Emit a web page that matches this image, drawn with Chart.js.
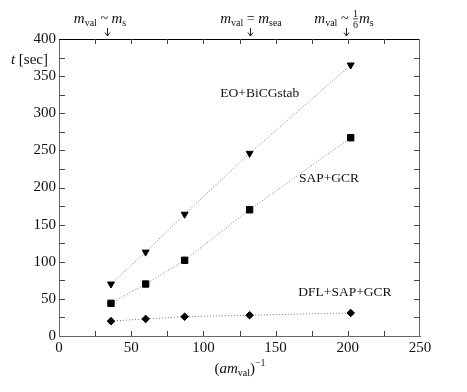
<!DOCTYPE html>
<html>
<head>
<meta charset="utf-8">
<script src="https://cdn.jsdelivr.net/npm/chart.js@4/dist/chart.umd.min.js"></script>
<style>
  html, body { margin: 0; padding: 0; background: #fff; }
  #wrap { width: 467px; height: 392px; }
</style>
</head>
<body>
<div id="wrap"><canvas id="solverChart" width="467" height="392"></canvas></div>
<script>
// (a m_val)^-1 values and timings in seconds
const invMass = [36, 60, 87, 132, 202];
const eoBicgstab = [70, 113, 164, 246, 365];
const sapGcr = [44, 70, 102, 170, 267];
const dflSapGcr = [20, 23, 26, 28, 31];
const xTicks = [0, 50, 100, 150, 200, 250];
const yTicks = [0, 50, 100, 150, 200, 250, 300, 350, 400];
const markerX = [33, 132.5, 198.5];

const SERIF = "'Liberation Serif', 'DejaVu Serif', serif";
const f = (size, italic) => (italic ? 'italic ' : '') + size + 'px ' + SERIF;

Chart.defaults.font.family = SERIF;

function toPoints(ys) {
    return invMass.map((x, i) => ({ x: x, y: ys[i] }));
}

// draw a run of text pieces (for subscripts, italics etc.)
function drawRich(ctx, x, y, parts, align) {
    let total = 0;
    parts.forEach(p => {
        ctx.font = p.font;
        if (p.frac) {
            p.w = Math.max(ctx.measureText(p.frac[0]).width, ctx.measureText(p.frac[1]).width) + 2;
        } else {
            p.w = ctx.measureText(p.t).width;
        }
        total += p.w;
    });
    let cx = align === 'center' ? x - total / 2 : (align === 'right' ? x - total : x);
    ctx.textAlign = 'left';
    ctx.textBaseline = 'alphabetic';
    parts.forEach(p => {
        ctx.font = p.font;
        if (p.frac) {
            ctx.textAlign = 'center';
            ctx.fillText(p.frac[0], cx + p.w / 2, y - 6);
            ctx.fillText(p.frac[1], cx + p.w / 2, y + 5);
            ctx.fillRect(cx + 1, y - 4.5, p.w - 2, 0.8);
            ctx.textAlign = 'left';
        } else {
            ctx.fillText(p.t, cx, y + (p.dy || 0));
        }
        cx += p.w;
    });
}

const framePlugin = {
    id: 'frame',
    afterDraw(chart) {
        const ctx = chart.ctx;
        const xs = chart.scales.x, ys = chart.scales.y;
        const a = chart.chartArea;
        ctx.save();
        // frame
        ctx.lineWidth = 1;
        ctx.strokeStyle = '#000';
        ctx.beginPath();
        ctx.moveTo(a.left, a.top + 0.5);
        ctx.lineTo(a.right, a.top + 0.5);
        ctx.stroke();
        ctx.strokeStyle = '#666';
        ctx.beginPath();
        ctx.moveTo(a.right - 0.5, a.top);
        ctx.lineTo(a.right - 0.5, a.bottom);
        ctx.stroke();

        // inward ticks every 25
        ctx.strokeStyle = '#444';
        ctx.beginPath();
        for (let v = 25; v < 250; v += 25) {
            const px = Math.round(xs.getPixelForValue(v)) + 0.5;
            ctx.moveTo(px, a.bottom); ctx.lineTo(px, a.bottom - 5);
            ctx.moveTo(px, a.top); ctx.lineTo(px, a.top + 5);
        }
        for (let v = 25; v < 400; v += 25) {
            const py = Math.round(ys.getPixelForValue(v)) + 0.5;
            ctx.moveTo(a.left, py); ctx.lineTo(a.left + 6, py);
            ctx.moveTo(a.right, py); ctx.lineTo(a.right - 6, py);
        }
        ctx.stroke();

        ctx.fillStyle = '#111';
        // axis titles
        drawRich(ctx, 48, 64, [
            { t: 't', font: f(15, true) },
            { t: ' [sec]', font: f(15) }
        ], 'right');
        drawRich(ctx, 240, 373, [
            { t: '(', font: f(15) },
            { t: 'am', font: f(15, true) },
            { t: 'val', font: f(10), dy: 3 },
            { t: ')', font: f(15) },
            { t: '\u22121', font: f(10), dy: -7 }
        ], 'center');

        // series labels
        ctx.font = f(13.5);
        ctx.textAlign = 'center';
        ctx.textBaseline = 'middle';
        ctx.fillText('EO+BiCGstab', xs.getPixelForValue(139), ys.getPixelForValue(327));
        ctx.fillText('SAP+GCR', xs.getPixelForValue(187), ys.getPixelForValue(212));
        ctx.fillText('DFL+SAP+GCR', xs.getPixelForValue(198), ys.getPixelForValue(59));

        // quark mass markers above the frame
        const labels = [
            [{ t: 'm', font: f(15, true) }, { t: 'val', font: f(10), dy: 3 },
             { t: ' ~ ', font: f(14) }, { t: 'm', font: f(15, true) }, { t: 's', font: f(10), dy: 3 }],
            [{ t: 'm', font: f(15, true) }, { t: 'val', font: f(10), dy: 3 },
             { t: ' = ', font: f(14) }, { t: 'm', font: f(15, true) }, { t: 'sea', font: f(10), dy: 3 }],
            [{ t: 'm', font: f(15, true) }, { t: 'val', font: f(10), dy: 3 },
             { t: ' ~ ', font: f(14) }, { frac: ['1', '6'], font: f(10) },
             { t: 'm', font: f(15, true) }, { t: 's', font: f(10), dy: 3 }]
        ];
        const textCenters = [100, 251, 344];
        markerX.forEach((v, i) => {
            const px = Math.round(xs.getPixelForValue(v)) + 0.5;
            drawRich(ctx, textCenters[i], 23, labels[i], 'center');
            ctx.strokeStyle = '#222';
            ctx.beginPath();
            ctx.moveTo(px, 28); ctx.lineTo(px, 36);
            ctx.moveTo(px - 2.5, 32.5); ctx.lineTo(px, 36); ctx.lineTo(px + 2.5, 32.5);
            ctx.stroke();
        });
        ctx.restore();
    }
};

const lineStyle = {
    showLine: true,
    borderColor: '#777',
    borderWidth: 1,
    borderDash: [1, 2],
    pointBackgroundColor: '#000',
    pointBorderColor: '#000',
    pointBorderWidth: 1
};

new Chart(document.getElementById('solverChart'), {
    type: 'scatter',
    data: {
        datasets: [
            Object.assign({ label: 'EO+BiCGstab', data: toPoints(eoBicgstab), pointStyle: 'triangle', rotation: 180, pointRadius: 4 }, lineStyle),
            Object.assign({ label: 'SAP+GCR', data: toPoints(sapGcr), pointStyle: 'rect', pointRadius: 4.5 }, lineStyle),
            Object.assign({ label: 'DFL+SAP+GCR', data: toPoints(dflSapGcr), pointStyle: 'rectRot', pointRadius: 3.8 }, lineStyle)
        ]
    },
    options: {
        responsive: false,
        animation: false,
        devicePixelRatio: 1,
        layout: { padding: { left: 0, top: 39, right: 47, bottom: 0 } },
        plugins: { legend: { display: false }, tooltip: { enabled: false } },
        scales: {
            x: {
                type: 'linear',
                min: 0, max: 250,
                afterFit: s => { s.height = 56; },
                afterBuildTicks: s => { s.ticks = xTicks.map(v => ({ value: v })); },
                grid: { display: false, drawTicks: false },
                border: { display: true, color: '#666', width: 1 },
                ticks: { color: '#111', padding: 3, font: { family: SERIF, size: 15 } }
            },
            y: {
                type: 'linear',
                min: 0, max: 400,
                afterFit: s => { s.width = 59; },
                afterBuildTicks: s => { s.ticks = yTicks.map(v => ({ value: v })); },
                grid: { display: false, drawTicks: false },
                border: { display: true, color: '#666', width: 1 },
                ticks: { color: '#111', padding: 3, font: { family: SERIF, size: 15 } }
            }
        }
    },
    plugins: [framePlugin]
});
</script>
</body>
</html>
